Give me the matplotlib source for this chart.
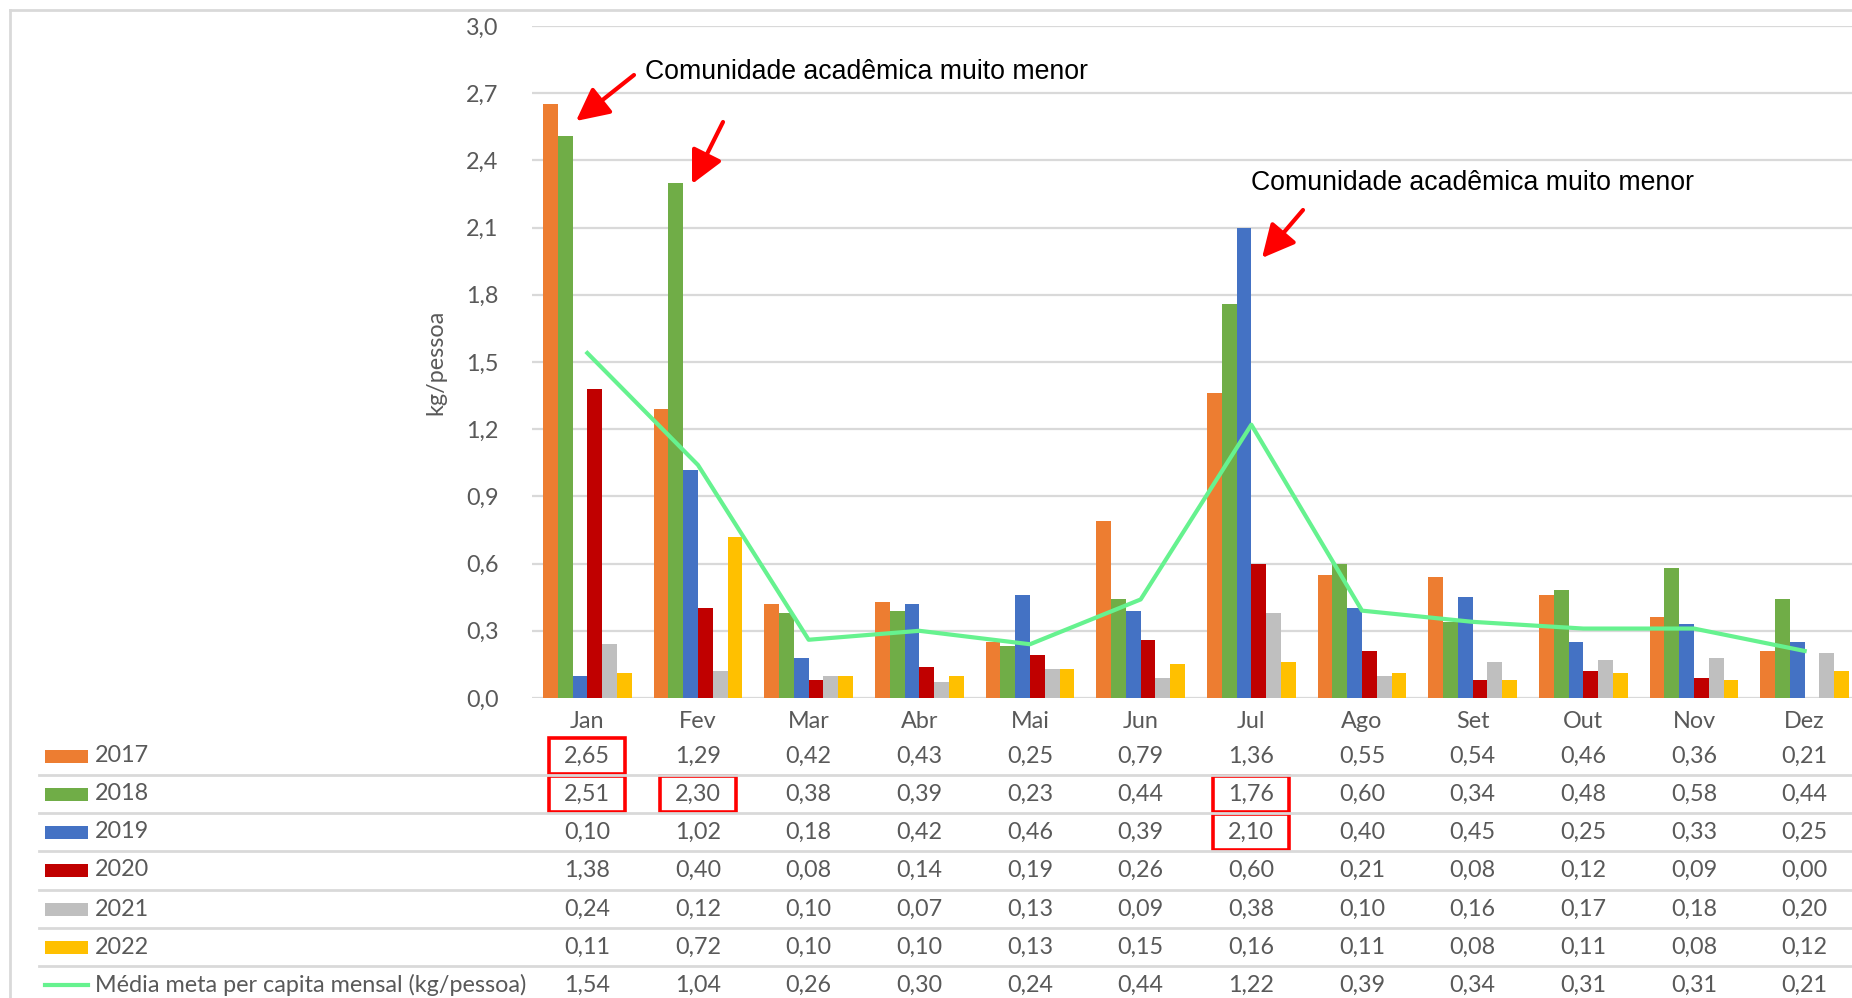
#monthly per capita chart with data table below

import matplotlib
matplotlib.use('Agg')
from matplotlib import pyplot as plt
from matplotlib import transforms
from matplotlib.patches import Rectangle
from matplotlib.lines import Line2D
import numpy as np


#data
meses = ['Jan', 'Fev', 'Mar', 'Abr', 'Mai', 'Jun', 'Jul', 'Ago', 'Set', 'Out', 'Nov', 'Dez']
anos = ['2017', '2018', '2019', '2020', '2021', '2022']
v2017 = [2.65, 1.29, 0.42, 0.43, 0.25, 0.79, 1.36, 0.55, 0.54, 0.46, 0.36, 0.21]
v2018 = [2.51, 2.30, 0.38, 0.39, 0.23, 0.44, 1.76, 0.60, 0.34, 0.48, 0.58, 0.44]
v2019 = [0.10, 1.02, 0.18, 0.42, 0.46, 0.39, 2.10, 0.40, 0.45, 0.25, 0.33, 0.25]
v2020 = [1.38, 0.40, 0.08, 0.14, 0.19, 0.26, 0.60, 0.21, 0.08, 0.12, 0.09, 0.00]
v2021 = [0.24, 0.12, 0.10, 0.07, 0.13, 0.09, 0.38, 0.10, 0.16, 0.17, 0.18, 0.20]
v2022 = [0.11, 0.72, 0.10, 0.10, 0.13, 0.15, 0.16, 0.11, 0.08, 0.11, 0.08, 0.12]
media = [1.54, 1.04, 0.26, 0.30, 0.24, 0.44, 1.22, 0.39, 0.34, 0.31, 0.31, 0.21]
media_label = 'Média meta per capita mensal (kg/pessoa)'
nota = 'Comunidade acadêmica muito menor'

series = [v2017, v2018, v2019, v2020, v2021, v2022]
cores = ['#ED7D31', '#70AD47', '#4472C4', '#C00000', '#BFBFBF', '#FFC000']
cor_linha = '#66F28F'
cinza = '#595959'
grade = '#D9D9D9'

#cells highlighted with a red box (row, month)
destaques = [(0, 0), (1, 0), (1, 1), (1, 6), (2, 6)]

W, H = 1852, 998
fs = 16.8
fig = plt.figure(figsize=(W / 100, H / 100), dpi=100)
plt.rcParams['font.family'] = ['Lato', 'DejaVu Sans']

def fy(py):
  #pixel from top -> figure fraction
  return 1 - py / H

def fx(px):
  return px / W

ax = fig.add_axes([fx(532), fy(698), fx(1860 - 532), (698 - 26) / H])

x = np.arange(len(meses))
n = len(series)
bw = 0.8 / n
for i, (vals, c) in enumerate(zip(series, cores)):
  ax.bar(x - 0.4 + bw * (i + 0.5), vals, width=bw, color=c, zorder=3)

ax.plot(x, media, color=cor_linha, lw=3, zorder=4)

ax.set_xlim(-0.5, len(meses) - 0.5)
ax.set_ylim(0, 3.0)
yt = np.arange(0, 3.01, 0.3)
ax.set_yticks(yt)
ax.set_yticklabels([f'{t:.1f}'.replace('.', ',') for t in yt], color=cinza, fontsize=fs)
ax.set_xticks(x)
ax.set_xticklabels(meses, color=cinza, fontsize=fs)
ax.tick_params(axis='both', length=0)
ax.tick_params(axis='y', pad=24)
ax.tick_params(axis='x', pad=9)
ax.grid(axis='y', color=grade, lw=1.6, zorder=0)
for s in ax.spines.values():
  s.set_visible(False)
ax.set_ylabel('kg/pessoa', color=cinza, fontsize=fs, labelpad=14)

#data table under the chart
row_y = [756, 794, 832, 870, 909, 947, 985]
sep_y = [775, 813, 851, 890, 928, 966]
tr = transforms.blended_transform_factory(ax.transData, fig.transFigure)

for yy in sep_y:
  fig.add_artist(Line2D([fx(39), 1], [fy(yy), fy(yy)], color=grade, lw=2))

linhas = series + [media]
for r, vals in enumerate(linhas):
  for j, v in enumerate(vals):
    ax.text(j, fy(row_y[r]), f'{v:.2f}'.replace('.', ','), transform=tr,
            ha='center', va='center', color=cinza, fontsize=fs, clip_on=False)
  if r < n:
    fig.add_artist(Rectangle((fx(45), fy(row_y[r] + 6.5)), fx(43), 13 / H,
                             color=cores[r], lw=0))
    lab = anos[r]
  else:
    fig.add_artist(Line2D([fx(45), fx(88)], [fy(row_y[r]), fy(row_y[r])],
                          color=cor_linha, lw=3))
    lab = media_label
  fig.text(fx(95), fy(row_y[r]), lab, ha='left', va='center', color=cinza, fontsize=fs)

for r, j in destaques:
  ax.add_patch(Rectangle((j - 0.343, fy(row_y[r] + 18)), 0.687, 36 / H, transform=tr,
                         fill=False, edgecolor='#FF0000', lw=2.6, clip_on=False, zorder=5))

#annotations
fig.text(fx(645), fy(72), nota, ha='left', va='center', fontsize=19.2,
         family='Liberation Sans', color='black')
fig.text(fx(1251), fy(183), nota, ha='left', va='center', fontsize=19.2,
         family='Liberation Sans', color='black')
setas = [((634, 75), (576, 121)), ((723, 122), (692, 184)), ((1303, 210), (1262, 258))]
for (x0, y0), (x1, y1) in setas:
  fig.add_artist(matplotlib.patches.FancyArrowPatch(
      (fx(x0), fy(y0)), (fx(x1), fy(y1)), transform=fig.transFigure,
      arrowstyle='-|>,head_length=1.0,head_width=0.5', mutation_scale=20,
      color='#FF0000', lw=3, shrinkA=0, shrinkB=0))

#outer chart border
fig.add_artist(Line2D([fx(10), 1], [fy(10), fy(10)], color=grade, lw=2))
fig.add_artist(Line2D([fx(10), fx(10)], [fy(10), 0], color=grade, lw=2))

fig.savefig('out.png', dpi=100, facecolor='white')
